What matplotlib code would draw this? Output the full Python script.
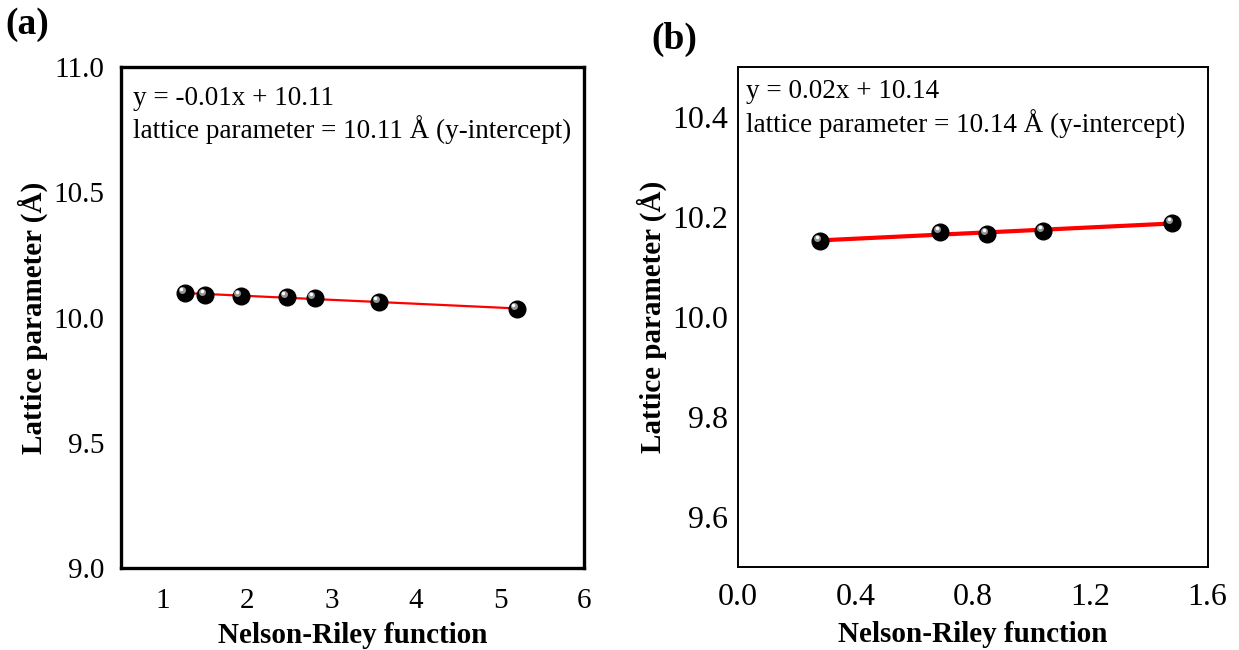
import numpy as np
import matplotlib.pyplot as plt
from matplotlib.transforms import offset_copy

plt.rcParams['font.family'] = ['Liberation Serif', 'DejaVu Serif']

# panel (a)
nr_a = [1.26, 1.50, 1.92, 2.47, 2.80, 3.56, 5.20]
lat_a = [10.098, 10.090, 10.086, 10.082, 10.078, 10.062, 10.034]
eq_a = "y = -0.01x + 10.11\nlattice parameter = 10.11 Å (y-intercept)"

# panel (b)
nr_b = [0.28, 0.69, 0.85, 1.04, 1.48]
lat_b = [10.152, 10.170, 10.166, 10.172, 10.188]
eq_b = "y = 0.02x + 10.14\nlattice parameter = 10.14 Å (y-intercept)"


def sphere(ax, x, y):
    ax.plot(x, y, 'o', color='black', markersize=12, zorder=3)
    hl = offset_copy(ax.transData, fig=ax.figure, x=-2.4, y=2.4, units='points')
    ax.plot(x, y, 'o', color='#bdbdbd', markersize=5, alpha=0.8,
            markeredgewidth=0, transform=hl, zorder=4)
    hl2 = offset_copy(ax.transData, fig=ax.figure, x=-2.6, y=2.6, units='points')
    ax.plot(x, y, 'o', color='white', markersize=2.5,
            markeredgewidth=0, transform=hl2, zorder=5)


def fit_line(ax, x, y, lw):
    k, b = np.polyfit(x, y, 1)
    xs = np.array([min(x), max(x)])
    ax.plot(xs, k * xs + b, color='red', lw=lw, zorder=2)


fig = plt.figure(figsize=(12.39, 6.5), dpi=100)
ax1 = fig.add_axes([0.0977, 0.126, 0.374, 0.771])
ax2 = fig.add_axes([0.5956, 0.128, 0.379, 0.769])

fit_line(ax1, nr_a, lat_a, 1.6)
sphere(ax1, nr_a, lat_a)
ax1.set_xlim(0.5, 6)
ax1.set_ylim(9.0, 11.0)
ax1.set_xticks([1, 2, 3, 4, 5, 6])
ax1.set_yticks([9.0, 9.5, 10.0, 10.5, 11.0])
ax1.yaxis.set_major_formatter(plt.FormatStrFormatter('%.1f'))
ax1.tick_params(length=0, labelsize=21)
ax1.tick_params(axis='x', pad=14)
ax1.tick_params(axis='y', pad=12)
for s in ax1.spines.values():
    s.set_linewidth(2.4)
ax1.text(0.025, 0.962, eq_a, transform=ax1.transAxes, va='top', ha='left',
         fontsize=19.5, linespacing=1.18)
ax1.set_ylabel("Lattice parameter (Å)", fontsize=21, fontweight='bold', labelpad=4)

fit_line(ax2, nr_b, lat_b, 3)
sphere(ax2, nr_b, lat_b)
ax2.set_xlim(0.0, 1.6)
ax2.set_ylim(9.5, 10.5)
ax2.set_xticks([0.0, 0.4, 0.8, 1.2, 1.6])
ax2.set_yticks([9.6, 9.8, 10.0, 10.2, 10.4])
ax2.xaxis.set_major_formatter(plt.FormatStrFormatter('%.1f'))
ax2.yaxis.set_major_formatter(plt.FormatStrFormatter('%.1f'))
ax2.tick_params(length=0, labelsize=23)
ax2.tick_params(axis='x', pad=12)
ax2.tick_params(axis='y', pad=7)
for s in ax2.spines.values():
    s.set_linewidth(1.4)
ax2.text(0.018, 0.975, eq_b, transform=ax2.transAxes, va='top', ha='left',
         fontsize=19.5, linespacing=1.18)
ax2.set_ylabel("Lattice parameter (Å)", fontsize=21, fontweight='bold', labelpad=4)

for ax in (ax1, ax2):
    ax.set_xlabel("Nelson-Riley function", fontsize=21, fontweight='bold', labelpad=6)

fig.text(0.004, 0.963, "(a)", fontsize=27, fontweight='bold', va='center')
fig.text(0.526, 0.94, "(b)", fontsize=27, fontweight='bold', va='center')

plt.savefig("out.png", dpi=100)
